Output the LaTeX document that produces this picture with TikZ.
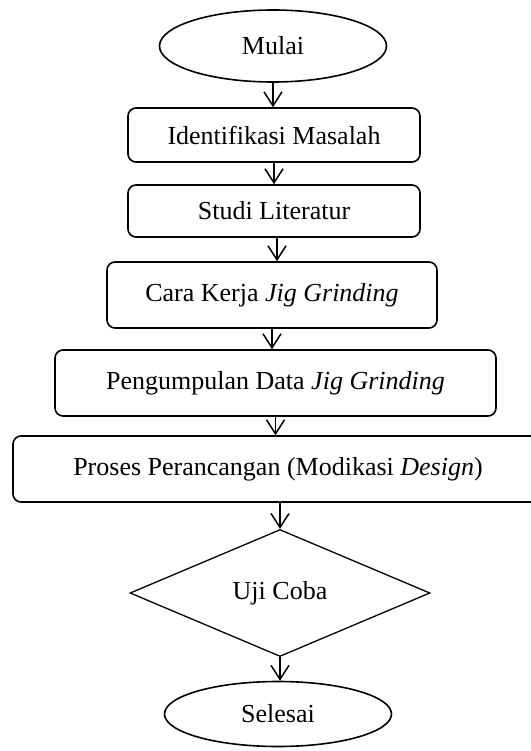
\documentclass[tikz,border=0pt]{standalone}
\usepackage{fontspec}
\setmainfont{Liberation Serif}
\usepackage{tikz}
\usetikzlibrary{shapes.geometric,arrows.meta}

\begin{document}
\begin{tikzpicture}[x=1bp,y=-1bp,
    every node/.style={font=\fontsize{26bp}{30bp}\selectfont, inner sep=0pt},
    terminal/.style={draw, ellipse, line width=1.6bp},
    proses/.style={draw, rectangle, rounded corners=8bp, line width=1.6bp},
    keputusan/.style={draw, diamond, line width=1.3bp},
    panah/.style={line width=1.5bp, -{Straight Barb[length=14bp,width=18bp,line width=1.5bp]}}]
             \useasboundingbox (0,0) rectangle (531,751);

             \node[terminal, minimum width=227bp, minimum height=72bp] (mulai) at (273, 46) {Mulai};
             \node[proses, minimum width=292bp, minimum height=54bp] (identifikasi) at (274, 135) {Identifikasi Masalah};
             \node[proses, minimum width=292bp, minimum height=52bp] (studi) at (274, 211) {Studi Literatur};
             \node[proses, minimum width=330bp, minimum height=66bp] (cara) at (272, 295) {Cara Kerja \textit{Jig Grinding}};
             \node[proses, minimum width=441bp, minimum height=66bp] (data) at (275.5, 383) {Pengumpulan Data \textit{Jig Grinding}};
             \node[proses, minimum width=530bp, minimum height=66bp] (rancang) at (278, 469) {Proses Perancangan (Modikasi \textit{Design})};
             \node[keputusan, minimum width=300bp, minimum height=127bp] (uji) at (280, 593) {Uji Coba};
             \node[terminal, minimum width=227bp, minimum height=65bp] (selesai) at (278, 714) {Selesai};

             \draw[panah] (mulai) -- (mulai |- identifikasi.north);
             \draw[panah] (identifikasi) -- (identifikasi |- studi.north);
             \draw[panah] (studi.south) ++(3,0) coordinate (s1) -- (s1 |- cara.north);
             \draw[panah] (cara) -- (cara |- data.north);
             \draw[panah] (data) -- (data |- rancang.north);
             \draw[panah] (rancang.south -| uji) -- (uji.north);
             \draw[panah] (uji) -- (uji |- selesai.north);
\end{tikzpicture}
\end{document}
